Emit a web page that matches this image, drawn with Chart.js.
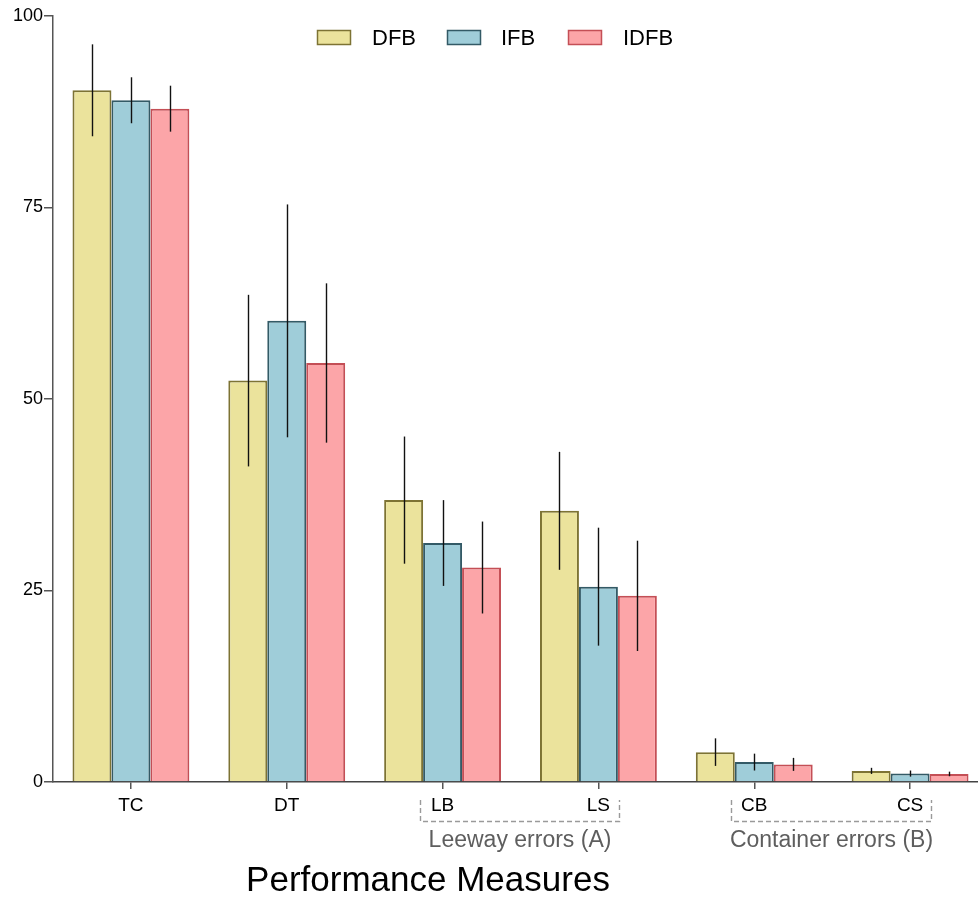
<!DOCTYPE html>
<html>
<head>
<meta charset="utf-8">
<script src="https://cdn.jsdelivr.net/npm/chart.js@4"></script>
<style>
html,body{margin:0;padding:0;background:#fff;overflow:hidden;}
#wrap{width:1000px;height:922px;}
</style>
</head>
<body>
<div id="wrap"><canvas id="c" width="1000" height="922"></canvas></div>
<script>
const categories = ['TC', 'DT', 'LB', 'LS', 'CB', 'CS'];
const seriesNames = ['DFB', 'IFB', 'IDFB'];
const dfb = [90.3, 52.4, 36.8, 35.4, 3.9, 1.45];
const dfbErr = [6.0, 11.2, 8.3, 7.7, 1.8, 0.4];
const ifb = [89.0, 60.2, 31.2, 25.5, 2.6, 1.1];
const ifbErr = [3.0, 15.2, 5.6, 7.7, 1.1, 0.4];
const idfb = [87.9, 54.7, 28.0, 24.3, 2.3, 1.05];
const idfbErr = [3.0, 10.4, 6.0, 7.2, 0.85, 0.3];
const yTicks = [0, 25, 50, 75, 100];
const groups = [
  { label: 'Leeway errors (A)', from: 2, to: 3 },
  { label: 'Container errors (B)', from: 4, to: 5 }
];
const xTitle = 'Performance Measures';

const FONT = "'Liberation Sans', Arial, Helvetica, sans-serif";
const fills = ['#ebe39c', '#9fcdd9', '#fca5a8'];
const borders = ['#7d7334', '#335a66', '#c44f56'];
const errs = [dfbErr, ifbErr, idfbErr];

const errorBars = {
  id: 'errorBars',
  afterDatasetsDraw(chart) {
    const ctx = chart.ctx, y = chart.scales.y;
    ctx.save();
    ctx.strokeStyle = '#111';
    ctx.lineWidth = 1.4;
    chart.data.datasets.forEach((ds, di) => {
      const meta = chart.getDatasetMeta(di);
      meta.data.forEach((bar, i) => {
        const v = ds.data[i], e = errs[di][i];
        const x = Math.round(bar.x) + 0.5;
        ctx.beginPath();
        ctx.moveTo(x, y.getPixelForValue(v + e));
        ctx.lineTo(x, y.getPixelForValue(v - e));
        ctx.stroke();
      });
    });
    ctx.restore();
  }
};

const extras = {
  id: 'extras',
  afterDraw(chart) {
    const ctx = chart.ctx, xs = chart.scales.x;
    ctx.save();
    // legend
    const boxX = [317, 447, 568];
    const textX = [372, 501, 623];
    ctx.font = '22px ' + FONT;
    ctx.textBaseline = 'middle';
    ctx.textAlign = 'left';
    chart.data.datasets.forEach((ds, i) => {
      ctx.fillStyle = fills[i];
      ctx.fillRect(boxX[i], 30, 34, 15);
      ctx.strokeStyle = borders[i];
      ctx.lineWidth = 1.5;
      ctx.strokeRect(boxX[i] + 0.5, 30.5, 33, 14);
      ctx.fillStyle = '#000';
      ctx.fillText(ds.label, textX[i], 38.5);
    });
    // group brackets
    ctx.strokeStyle = '#9a9a9a';
    ctx.lineWidth = 1.4;
    ctx.font = '23px ' + FONT;
    ctx.textAlign = 'center';
    groups.forEach(g => {
      const x1 = Math.round(xs.getPixelForValue(g.from) - 23) + 0.5;
      const x2 = Math.round(xs.getPixelForValue(g.to) + 20.5) + 0.5;
      ctx.setLineDash([5, 3]);
      ctx.beginPath();
      ctx.moveTo(x1, 800);
      ctx.lineTo(x1, 821.5);
      ctx.lineTo(x2, 821.5);
      ctx.lineTo(x2, 800);
      ctx.stroke();
      ctx.setLineDash([]);
      ctx.fillStyle = '#5e5e5e';
      ctx.fillText(g.label, (x1 + x2) / 2, 841);
    });
    // axis title
    ctx.fillStyle = '#000';
    ctx.font = '35px ' + FONT;
    ctx.fillText(xTitle, 428, 881);
    ctx.restore();
  }
};

new Chart(document.getElementById('c'), {
  type: 'bar',
  data: {
    labels: categories,
    datasets: [dfb, ifb, idfb].map((d, i) => ({
      label: seriesNames[i],
      data: d,
      backgroundColor: fills[i],
      borderColor: borders[i],
      borderWidth: 2,
      categoryPercentage: 0.75,
      barPercentage: 1.0
    }))
  },
  options: {
    responsive: false,
    animation: false,
    layout: { padding: { left: 0, right: 12, top: 16, bottom: 0 } },
    plugins: { legend: { display: false }, tooltip: { enabled: false } },
    scales: {
      x: {
        grid: { offset: false, drawOnChartArea: false, drawTicks: true, tickLength: 7, color: '#555', lineWidth: 1.5 },
        border: { display: true, color: '#444', width: 1.5 },
        ticks: { color: '#000', font: { family: FONT, size: 19 }, padding: 5 },
        afterFit(s) { s.height = 140; }
      },
      y: {
        min: 0, max: 100,
        afterBuildTicks(s) { s.ticks = yTicks.map(v => ({ value: v })); },
        grid: { drawOnChartArea: false, drawTicks: true, tickLength: 9, color: '#555', lineWidth: 1.5 },
        border: { display: true, color: '#555', width: 1.5 },
        ticks: { color: '#000', font: { family: FONT, size: 18 }, padding: 1 },
        afterFit(s) { s.width = 53; }
      }
    }
  },
  plugins: [errorBars, extras]
});
</script>
</body>
</html>
